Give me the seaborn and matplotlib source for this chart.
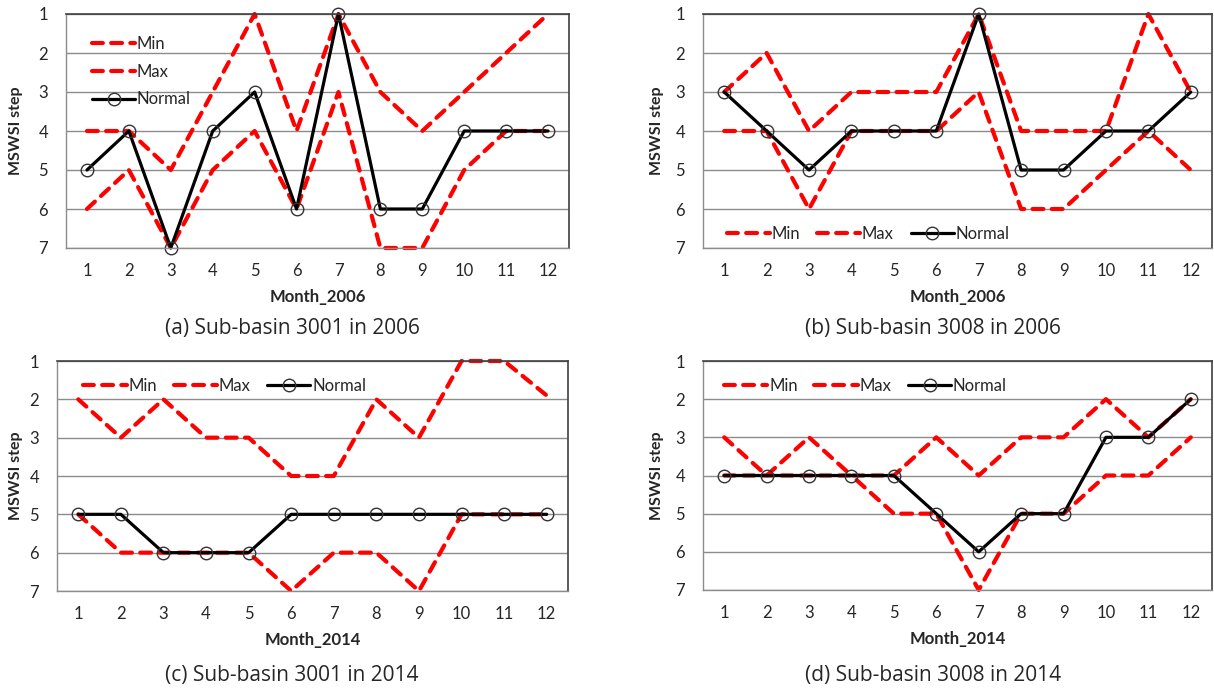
import numpy as np
import pandas as pd
import matplotlib
matplotlib.use("Agg")
import matplotlib.pyplot as plt
import seaborn as sns

# months on the x axis
months = list(range(1, 13))

# (a) sub-basin 3001, 2006
a_min = [6, 5, 7, 5, 4, 6, 3, 7, 7, 5, 4, 4]
a_max = [4, 4, 5, 3, 1, 4, 1, 3, 4, 3, 2, 1]
a_normal = [5, 4, 7, 4, 3, 6, 1, 6, 6, 4, 4, 4]

# (b) sub-basin 3008, 2006
b_min = [4, 4, 6, 4, 4, 4, 3, 6, 6, 5, 4, 5]
b_max = [3, 2, 4, 3, 3, 3, 1, 4, 4, 4, 1, 3]
b_normal = [3, 4, 5, 4, 4, 4, 1, 5, 5, 4, 4, 3]

# (c) sub-basin 3001, 2014
c_min = [5, 6, 6, 6, 6, 7, 6, 6, 7, 5, 5, 5]
c_max = [2, 3, 2, 3, 3, 4, 4, 2, 3, 1, 1, 1.9]
c_normal = [5, 5, 6, 6, 6, 5, 5, 5, 5, 5, 5, 5]

# (d) sub-basin 3008, 2014
d_min = [4, 4, 4, 4, 5, 5, 7, 5, 5, 4, 4, 3]
d_max = [3, 4, 3, 4, 4, 3, 4, 3, 3, 2, 3, 2]
d_normal = [4, 4, 4, 4, 4, 5, 6, 5, 5, 3, 3, 2]

y_ticks = [1, 2, 3, 4, 5, 6, 7]

sns.set_style("white")
plt.rcParams['font.family'] = ['Lato', 'DejaVu Sans']

W, H = 1214, 690
fig = plt.figure(figsize=(W / 100, H / 100), dpi=100)


def px_axes(left, right, top, bottom):
    return fig.add_axes([left / W, 1 - bottom / H, (right - left) / W, (bottom - top) / H])


panels = [
    # box in pixels, data, xlabel, caption, caption x, legend settings
    dict(box=(66, 569, 14, 248), mn=a_min, mx=a_max, nm=a_normal, year="2006",
         cap="(a) Sub-basin 3001 in 2006", capx=292, capy=328, ylx=16,
         leg=dict(ncol=1, loc="upper left", anchor=(0.045, 0.92))),
    dict(box=(703, 1212, 14, 248), mn=b_min, mx=b_max, nm=b_normal, year="2006",
         cap="(b) Sub-basin 3008 in 2006", capx=933, capy=328, ylx=657,
         leg=dict(ncol=3, loc="lower left", anchor=(0.04, 0.01))),
    dict(box=(57, 568, 361, 591), mn=c_min, mx=c_max, nm=c_normal, year="2014",
         cap="(c) Sub-basin 3001 in 2014", capx=292, capy=675, ylx=16,
         leg=dict(ncol=3, loc="upper left", anchor=(0.045, 0.94))),
    dict(box=(703, 1212, 361, 590), mn=d_min, mx=d_max, nm=d_normal, year="2014",
         cap="(d) Sub-basin 3008 in 2014", capx=933, capy=675, ylx=657,
         leg=dict(ncol=3, loc="upper left", anchor=(0.035, 0.94))),
]

red_style = dict(color="red", linewidth=3, linestyle=(0, (2.6, 2.0)),
                 dash_capstyle="round", clip_on=False)

for p in panels:
    ax = px_axes(*p["box"])
    sns.lineplot(x=months, y=p["mn"], ax=ax, label="Min", **red_style)
    sns.lineplot(x=months, y=p["mx"], ax=ax, label="Max", **red_style)
    sns.lineplot(x=months, y=p["nm"], ax=ax, label="Normal", color="black",
                 linewidth=2.3, marker="o", markersize=9, markerfacecolor="none",
                 markeredgecolor="#333333", markeredgewidth=1.0, clip_on=False)

    ax.set_xlim(0.5, 12.5)
    ax.set_ylim(7, 1)
    ax.set_xticks(months)
    ax.set_xticklabels([str(m) for m in months])
    ax.set_yticks(y_ticks)
    ax.yaxis.grid(True, color="#8c8c8c", linewidth=1)
    ax.set_axisbelow(True)
    ax.tick_params(axis="x", length=0, labelsize=12, pad=11)
    ax.tick_params(axis="y", length=6, width=1, color="#8c8c8c", labelsize=12, pad=7)
    for s in ["left", "bottom"]:
        ax.spines[s].set_color("#8c8c8c")
        ax.spines[s].set_linewidth(1)
    for s in ["top", "right"]:
        ax.spines[s].set_color("#404040")
        ax.spines[s].set_linewidth(1.2)
    ax.set_xlabel("Month_" + p["year"], fontsize=12, fontweight="bold", labelpad=7)
    ax.set_ylabel("")

    cy = (p["box"][2] + p["box"][3]) / 2
    fig.text(p["ylx"] / W, 1 - cy / H, "MSWSI step", rotation=90, ha="center",
             va="center", fontsize=11.5, fontweight="bold")
    fig.text(p["capx"] / W, 1 - p["capy"] / H, p["cap"], ha="center", va="center",
             fontsize=15, family=["Open Sans", "DejaVu Sans"])

    ax.legend(loc=p["leg"]["loc"], bbox_to_anchor=p["leg"]["anchor"],
              ncol=p["leg"]["ncol"], frameon=False, fontsize=12,
              handlelength=2.6, handletextpad=0.1, columnspacing=1.0,
              labelspacing=0.7, borderaxespad=0.0, borderpad=0.2)

fig.savefig("out.png", dpi=100)
